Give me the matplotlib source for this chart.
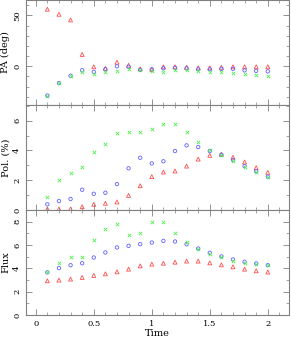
import matplotlib
matplotlib.use("Agg")
import matplotlib.pyplot as plt
from matplotlib.ticker import MultipleLocator

plt.rcParams['font.family'] = ['DejaVu Serif']
plt.rcParams['font.size'] = 6

# data
time = [0.1, 0.2, 0.3, 0.4, 0.5, 0.6, 0.7, 0.8, 0.9, 1.0,
        1.1, 1.2, 1.3, 1.4, 1.5, 1.6, 1.7, 1.8, 1.9, 2.0]

pa_red = [56, 51, 45.5, 11.6, -0.5, -2, 4, 1, -2.5, -3,
          -0.5, -0.5, -1, -1.5, -1.5, -1, -0.5, -0.5, -0.5, -0.5]
pa_blue = [-28.7, -16.5, -9.3, -3.9, -5.5, -3, 0, -0.5, -3.5, -3,
           -2, -1.5, -2, -3, -3, -2.5, -2.5, -4, -4.5, -5]
pa_green = [-29, -16, -10, -6, -8, -6, -4.5, -3, -4, -4.5,
            -5.5, -4, -3.5, -5, -5.5, -6, -6.5, -7.5, -8.5, -10]

pol_red = [0.07, 0.07, 0.07, 0.22, 0.38, 0.45, 0.54, 0.98, 1.63, 2.24,
           2.55, 2.62, 2.95, 3.42, 3.67, 3.74, 3.54, 3.22, 2.84, 2.53]
pol_blue = [0.38, 0.6, 0.74, 1.36, 1.09, 1.16, 1.74, 2.8, 3.51, 3.13,
            3.27, 3.96, 4.34, 4.23, 3.96, 3.71, 3.36, 2.95, 2.6, 2.24]
pol_green = [0.85, 2.0, 2.48, 2.89, 3.89, 4.43, 5.15, 5.21, 5.21, 5.41,
             5.8, 5.8, 5.23, 4.59, 4.05, 3.71, 3.27, 2.89, 2.53, 2.19]

flux_red = [2.93, 2.99, 3.08, 3.22, 3.39, 3.53, 3.7, 3.93, 4.21, 4.36,
            4.44, 4.53, 4.62, 4.62, 4.47, 4.3, 4.13, 3.93, 3.79, 3.68]
flux_blue = [3.65, 4.02, 4.27, 4.44, 4.93, 5.36, 5.79, 5.93, 6.07, 6.21,
             6.35, 6.3, 6.07, 5.7, 5.33, 5.02, 4.76, 4.56, 4.42, 4.27]
flux_green = [3.65, 4.5, 4.98, 4.98, 6.44, 7.41, 7.8, 6.86, 7.0, 8.0,
              8.0, 7.0, 6.24, 5.7, 5.27, 4.93, 4.64, 4.44, 4.36, 4.25]

red = '#ff5050'
blue = '#6060ff'
green = '#50f050'
frame = '#808080'

fig = plt.figure(figsize=(2.91, 3.39), dpi=100)
left, width = 0.089, 0.903
h = 0.3097
bottoms = [0.0708 + 2 * h, 0.0708 + h, 0.0708]

panels = [
    (pa_red, pa_blue, pa_green, "PA (deg)", (-38, 65), 50, 10),
    (pol_red, pol_blue, pol_green, "Pol. (%)", (0, 7.05), 2, 1),
    (flux_red, flux_blue, flux_green, "Flux", (0, 9), 2, 1),
]

for i, (r, b, g, lab, ylim, maj, mnr) in enumerate(panels):
    ax = fig.add_axes([left, bottoms[i], width, h])
    ax.scatter(time, r, marker='^', s=8, facecolors='none', edgecolors=red, linewidths=0.6)
    ax.scatter(time, b, marker='o', s=6, facecolors='none', edgecolors=blue, linewidths=0.6)
    ax.scatter(time, g, marker='x', s=6, color=green, linewidths=0.6)
    ax.set_xlim(-0.085, 2.18)
    ax.set_ylim(*ylim)
    ax.xaxis.set_major_locator(MultipleLocator(0.5))
    ax.xaxis.set_minor_locator(MultipleLocator(0.1))
    ax.yaxis.set_major_locator(MultipleLocator(maj))
    ax.yaxis.set_minor_locator(MultipleLocator(mnr))
    ax.tick_params(which='both', direction='in', top=True, right=True,
                   color=frame, labelsize=6)
    ax.tick_params(which='major', length=4, width=0.6)
    ax.tick_params(which='minor', length=2, width=0.5)
    for lbl in ax.get_yticklabels():
        lbl.set_rotation(90)
        lbl.set_va('center')
    for sp in ax.spines.values():
        sp.set_color(frame)
        sp.set_linewidth(0.8)
    ax.set_ylabel(lab, fontsize=7, labelpad=2)
    if i < 2:
        ax.tick_params(labelbottom=False)
    else:
        ax.set_xlabel("Time", fontsize=7, labelpad=1)
        ax.set_xticks([0, 0.5, 1, 1.5, 2])
        ax.set_xticklabels(['0', '0.5', '1', '1.5', '2'])

fig.savefig("out.png", dpi=100)
